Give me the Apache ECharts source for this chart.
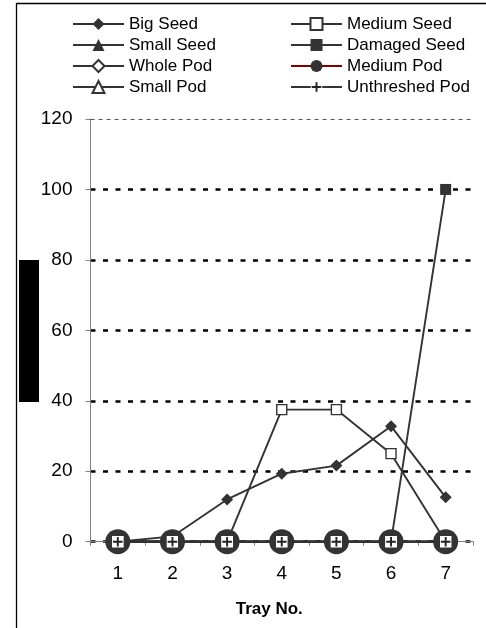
<!DOCTYPE html>
<html>
<head>
<meta charset="utf-8">
<script src="https://cdn.jsdelivr.net/npm/echarts@6/dist/echarts.min.js"></script>
<style>
html,body{margin:0;padding:0;background:#fff;}
#chart{width:486px;height:628px;}
</style>
</head>
<body>
<div id="chart"></div>
<script>
const trays = ['1', '2', '3', '4', '5', '6', '7'];
const bigSeed = [0, 1.5, 12, 19.3, 21.6, 32.8, 12.6];
const mediumSeed = [0, 0, 0, 37.5, 37.5, 25, 0];
const smallSeed = [0, 0, 0, 0, 0, 0, 0];
const damagedSeed = [0, 0, 0, 0, 0, 0, 100];
const wholePod = [0, 0, 0, 0, 0, 0, 0];
const mediumPod = [0, 0, 0, 0, 0, 0, 0];
const smallPod = [0, 0, 0, 0, 0, 0, 0];
const unthreshedPod = [0, 0, 0, 0, 0, 0, 0];
const yMin = 0, yMax = 120, yStep = 20;
const xTitle = 'Tray No.';

const FONT = '"Liberation Sans", Arial, sans-serif';
const DARK = '#333333';
const plusSvg = '<svg xmlns="http://www.w3.org/2000/svg" width="48" height="48" viewBox="0 0 12 12">' +
  '<rect x="0" y="0" width="12" height="12" fill="#ffffff"/>' +
  '<path d="M6 1.2V10.8M1.2 6H10.8" stroke="#222222" stroke-width="1.9" fill="none"/></svg>';
const PLUS = 'image://data:image/svg+xml;charset=utf-8,' + encodeURIComponent(plusSvg);

function mk(name, data, symbol, size, filled, lineColor) {
  return {
    name: name, type: 'line', data: data,
    symbol: symbol, symbolSize: size, showSymbol: true,
    lineStyle: { color: lineColor || DARK, width: 1.9 },
    itemStyle: filled ? { color: DARK, borderColor: DARK, borderWidth: 0 }
                      : { color: '#ffffff', borderColor: DARK, borderWidth: 1.4 },
    emphasis: { disabled: true },
    z: 2
  };
}

const legendCommon = {
  orient: 'vertical', top: 15.5, padding: 0, itemWidth: 51, itemHeight: 15, itemGap: 4,
  textStyle: { fontFamily: FONT, fontSize: 17, color: '#000' },
  selectedMode: false
};

const chart = echarts.init(document.getElementById('chart'), null, { renderer: 'canvas' });

const sMediumPod = mk('Medium Pod', mediumPod, 'circle', 25, true, '#800000');
const sBig = mk('Big Seed', bigSeed, 'diamond', 12, true);
const sSmallSeed = mk('Small Seed', smallSeed, 'triangle', 10, true);
const sDamaged = mk('Damaged Seed', damagedSeed, 'rect', 11, true);
const sWhole = mk('Whole Pod', wholePod, 'diamond', 10, false);
const sSmallPod = mk('Small Pod', smallPod, 'triangle', 10, false);
const sMedSeed = mk('Medium Seed', mediumSeed, 'rect', 10, false);
const sUnth = mk('Unthreshed Pod', unthreshedPod, PLUS, 12, true);
sMediumPod.markLine = {
  silent: true, symbol: 'none', label: { show: false },
  lineStyle: { color: '#555', width: 1, type: [4, 4] },
  data: [{ yAxis: yMax }]
};

chart.setOption({
  animation: false,
  backgroundColor: '#ffffff',
  grid: { left: 90.5, right: 13, top: 119, bottom: 86.3, containLabel: false },
  legend: [
    Object.assign({}, legendCommon, { left: 72, data: ['Big Seed', 'Small Seed', 'Whole Pod', 'Small Pod'] }),
    Object.assign({}, legendCommon, { left: 290, data: ['Medium Seed', 'Damaged Seed', 'Medium Pod', 'Unthreshed Pod'] })
  ],
  xAxis: {
    type: 'category', data: trays, boundaryGap: true,
    name: xTitle, nameLocation: 'middle', nameGap: 59,
    nameTextStyle: { fontFamily: FONT, fontSize: 17, fontWeight: 'bold', color: '#000', padding: [0, 25, 0, 0] },
    axisLine: { show: true, lineStyle: { color: '#808080', width: 1 } },
    axisTick: { show: true, length: 4, inside: false, lineStyle: { color: '#808080' } },
    axisLabel: { fontFamily: FONT, fontSize: 19, color: '#000', margin: 23 },
    splitLine: { show: false }
  },
  yAxis: {
    type: 'value', min: yMin, max: yMax, interval: yStep,
    axisLine: { show: true, lineStyle: { color: '#808080', width: 1 } },
    axisTick: { show: true, length: 5, lineStyle: { color: '#808080' } },
    axisLabel: { fontFamily: FONT, fontSize: 19, color: '#000', margin: 18 },
    splitLine: { show: true, lineStyle: { color: ['#000', '#000', '#000', '#000', '#000', '#000', 'rgba(0,0,0,0)'], width: 2.6, type: [5, 7.5] } }
  },
  graphic: [
    { type: 'rect', left: 14, top: 1, shape: { width: 500, height: 625.5 }, style: { fill: 'none', stroke: '#000', lineWidth: 1.3 }, silent: true },
    { type: 'rect', left: 19, top: 260, shape: { width: 20, height: 142 }, style: { fill: '#000' }, silent: true }
  ],
  series: [sMediumPod, sBig, sSmallSeed, sDamaged, sWhole, sSmallPod, sMedSeed, sUnth]
});
</script>
</body>
</html>
